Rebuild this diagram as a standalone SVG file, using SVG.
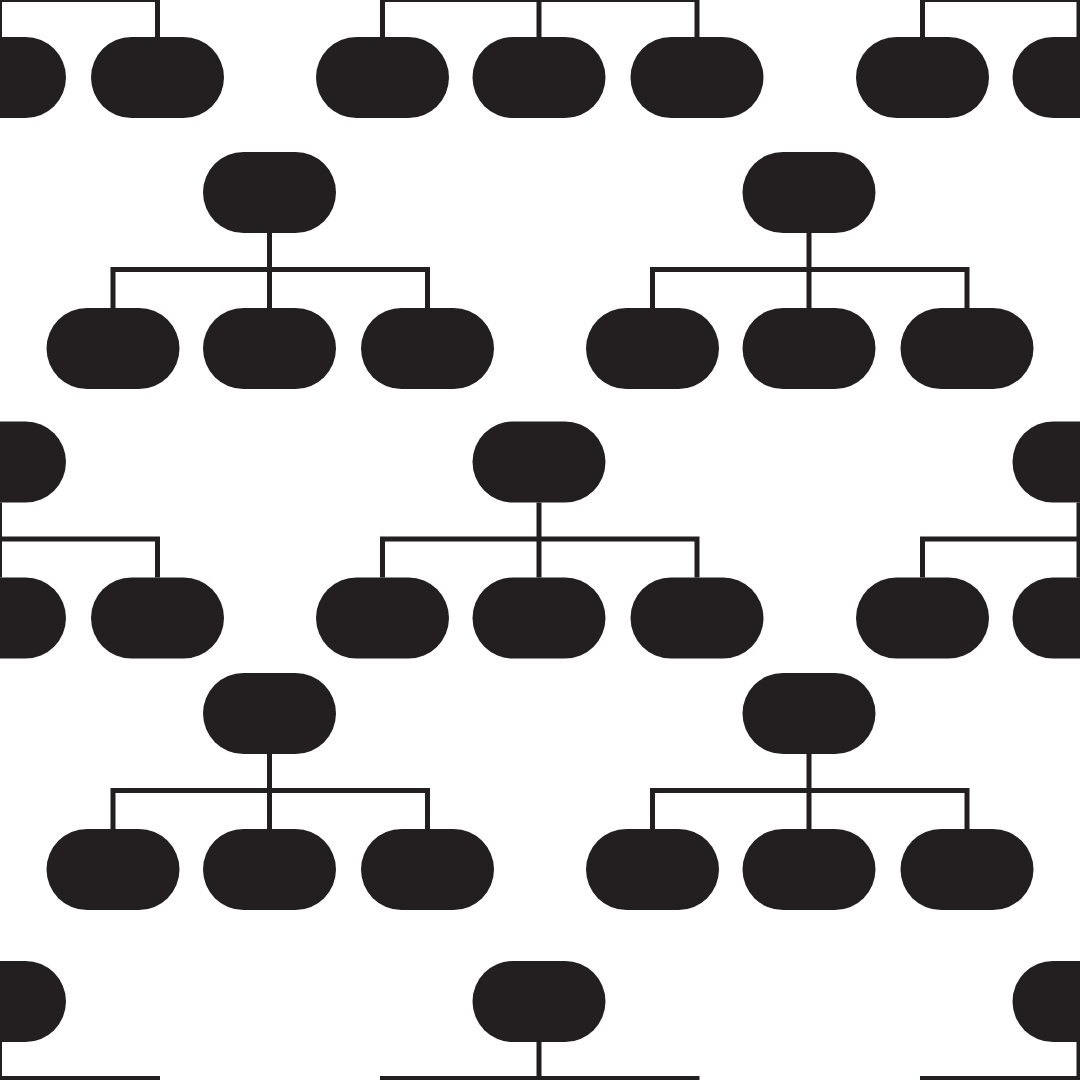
<svg xmlns="http://www.w3.org/2000/svg" xmlns:xlink="http://www.w3.org/1999/xlink" width="1080" height="1080" viewBox="0 0 1080 1080">
  <style>
    .node { fill: #231f20; }
    .conn { fill: none; stroke: #231f20; stroke-width: 5; stroke-linejoin: miter; stroke-linecap: butt; }
  </style>
  <defs>
    <rect id="pill" x="-66.5" y="0" width="133" height="81" rx="40.5" ry="40.5"/>
    <path id="link" d="M -156.5 156 V 117.5 H 158 V 156 M 0 81 V 156"/>
  </defs>
  <rect width="1080" height="1080" fill="#ffffff"/>

  <g id="connectors" class="conn">
    <use href="#link" x="-0.5" y="-118"/>
    <use href="#link" x="539" y="-118"/>
    <use href="#link" x="1079" y="-118"/>
    <use href="#link" x="269.5" y="152"/>
    <use href="#link" x="809" y="152"/>
    <use href="#link" x="-0.5" y="421.5"/>
    <use href="#link" x="539" y="421.5"/>
    <use href="#link" x="1079" y="421.5"/>
    <use href="#link" x="269.5" y="673"/>
    <use href="#link" x="809" y="673"/>
    <use href="#link" x="-0.5" y="961"/>
    <use href="#link" x="539" y="961"/>
    <use href="#link" x="1079" y="961"/>
  </g>

  <g id="nodes" class="node">
    <!-- top row (roots above the canvas) -->
    <g id="t1-child2"><use href="#pill" x="-0.5" y="37"/></g>
    <g id="t1-child3"><use href="#pill" x="157.5" y="37"/></g>
    <g id="t2-child1"><use href="#pill" x="382.5" y="37"/></g>
    <g id="t2-child2"><use href="#pill" x="539" y="37"/></g>
    <g id="t2-child3"><use href="#pill" x="697" y="37"/></g>
    <g id="t3-child1"><use href="#pill" x="922.5" y="37"/></g>
    <g id="t3-child2"><use href="#pill" x="1079" y="37"/></g>

    <!-- row 2 -->
    <g id="t4-root"><use href="#pill" x="269.5" y="152"/></g>
    <g id="t4-child1"><use href="#pill" x="113" y="308"/></g>
    <g id="t4-child2"><use href="#pill" x="269.5" y="308"/></g>
    <g id="t4-child3"><use href="#pill" x="427.5" y="308"/></g>
    <g id="t5-root"><use href="#pill" x="809" y="152"/></g>
    <g id="t5-child1"><use href="#pill" x="652.5" y="308"/></g>
    <g id="t5-child2"><use href="#pill" x="809" y="308"/></g>
    <g id="t5-child3"><use href="#pill" x="967" y="308"/></g>

    <!-- row 3 -->
    <g id="t6-root"><use href="#pill" x="-0.5" y="421.5"/></g>
    <g id="t6-child2"><use href="#pill" x="-0.5" y="577.5"/></g>
    <g id="t6-child3"><use href="#pill" x="157.5" y="577.5"/></g>
    <g id="t7-root"><use href="#pill" x="539" y="421.5"/></g>
    <g id="t7-child1"><use href="#pill" x="382.5" y="577.5"/></g>
    <g id="t7-child2"><use href="#pill" x="539" y="577.5"/></g>
    <g id="t7-child3"><use href="#pill" x="697" y="577.5"/></g>
    <g id="t8-root"><use href="#pill" x="1079" y="421.5"/></g>
    <g id="t8-child1"><use href="#pill" x="922.5" y="577.5"/></g>
    <g id="t8-child2"><use href="#pill" x="1079" y="577.5"/></g>

    <!-- row 4 -->
    <g id="t9-root"><use href="#pill" x="269.5" y="673"/></g>
    <g id="t9-child1"><use href="#pill" x="113" y="829"/></g>
    <g id="t9-child2"><use href="#pill" x="269.5" y="829"/></g>
    <g id="t9-child3"><use href="#pill" x="427.5" y="829"/></g>
    <g id="t10-root"><use href="#pill" x="809" y="673"/></g>
    <g id="t10-child1"><use href="#pill" x="652.5" y="829"/></g>
    <g id="t10-child2"><use href="#pill" x="809" y="829"/></g>
    <g id="t10-child3"><use href="#pill" x="967" y="829"/></g>

    <!-- bottom row (children below the canvas) -->
    <g id="t11-root"><use href="#pill" x="-0.5" y="961"/></g>
    <g id="t12-root"><use href="#pill" x="539" y="961"/></g>
    <g id="t13-root"><use href="#pill" x="1079" y="961"/></g>
  </g>
</svg>
